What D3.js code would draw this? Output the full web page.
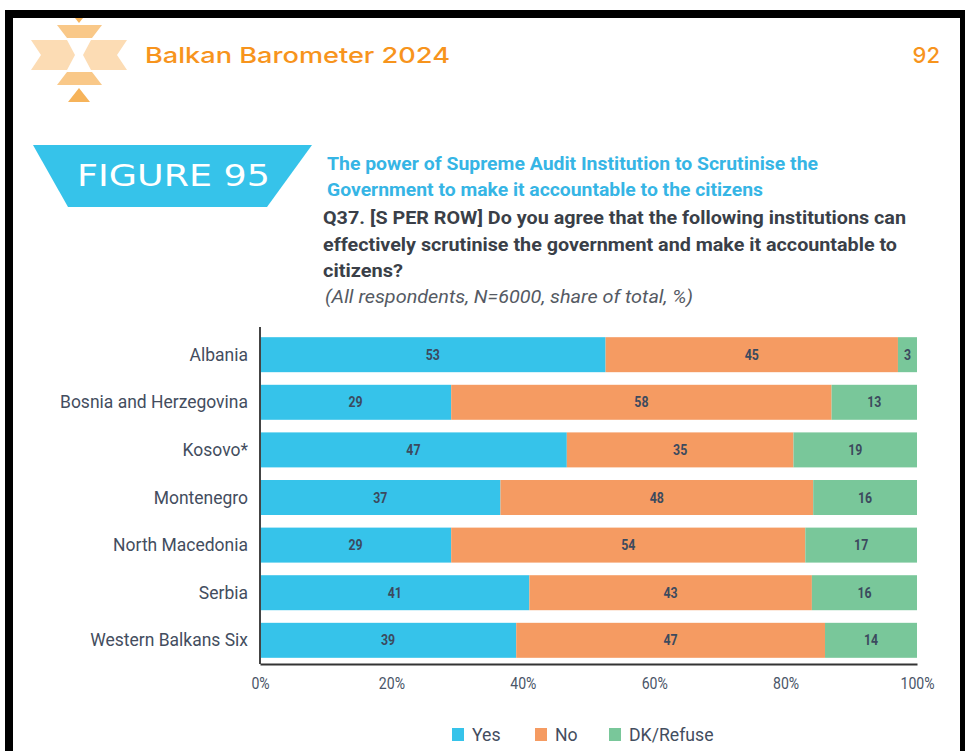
<!DOCTYPE html>
<html>
<head>
<meta charset="utf-8">
<script src="https://cdn.jsdelivr.net/npm/d3@7"></script>
<style>
  body { margin: 0; background: #fff; }
  svg { display: block; font-family: Roboto, "Noto Sans", sans-serif; }
</style>
</head>
<body>
<svg width="965" height="751"></svg>
<script>
// chart data
var countries = ["Albania", "Bosnia and Herzegovina", "Kosovo*", "Montenegro",
                 "North Macedonia", "Serbia", "Western Balkans Six"];
var yesVals = [52.6, 29.1, 46.7, 36.6, 29.1, 41.0, 39.0];
var noVals  = [44.5, 57.9, 34.5, 47.6, 53.9, 43.0, 47.0];
var dkVals  = [2.9, 13.0, 18.8, 15.8, 17.0, 16.0, 14.0];
var seriesNames = ["Yes", "No", "DK/Refuse"];
var seriesColors = ["#36c3ea", "#f59b62", "#79c79a"];
var xTicks = [0, 20, 40, 60, 80, 100];

var svg = d3.select("svg");

// squeeze text horizontally, like a condensed face
function condense(sel, k) {
    sel.each(function() {
        var w = this.getComputedTextLength();
        d3.select(this).attr("textLength", w * k).attr("lengthAdjust", "spacingAndGlyphs");
    });
}

// page frame
svg.append("rect").attr("x", 5).attr("y", 10).attr("width", 960).attr("height", 8).attr("fill", "#000");
svg.append("rect").attr("x", 5).attr("y", 10).attr("width", 8).attr("height", 741).attr("fill", "#000");
svg.append("rect").attr("x", 960).attr("y", 10).attr("width", 5).attr("height", 741).attr("fill", "#000");

// header logo
var logo = svg.append("g").attr("transform", "translate(79,0)");
logo.append("path").attr("d", "M-4,18 L4,18 L0,23 Z").attr("fill", "#f6b35a");
logo.append("path").attr("d", "M-22,25 L23,25 L13,38 L-12,38 Z").attr("fill", "#f9c888");
logo.append("path").attr("d", "M-48,40 L-12,40 L-4,55 L-12,70 L-48,70 L-38,55 Z").attr("fill", "#fcdcb4");
logo.append("path").attr("d", "M48,40 L12,40 L4,55 L12,70 L48,70 L38,55 Z").attr("fill", "#fcdcb4");
logo.append("path").attr("d", "M-12,72 L13,72 L23,85 L-22,85 Z").attr("fill", "#f9c888");
logo.append("path").attr("d", "M0,88 L11,102 L-11,102 Z").attr("fill", "#f6b35a");

svg.append("text").attr("x", 145).attr("y", 63)
    .attr("font-family", "Inter, 'DejaVu Sans', sans-serif").attr("font-size", 22).attr("font-weight", 500)
    .attr("fill", "#f7941d").attr("textLength", 305).attr("lengthAdjust", "spacingAndGlyphs")
    .text("Balkan Barometer 2024");
svg.append("text").attr("x", 940).attr("y", 63).attr("text-anchor", "end")
    .attr("font-family", "Inter, 'DejaVu Sans', sans-serif").attr("font-size", 22).attr("font-weight", 500)
    .attr("fill", "#f7941d").text("92");

// figure banner
svg.append("path").attr("d", "M33,145 L312,145 L267,207 L68,207 Z").attr("fill", "#36c3ea");
svg.append("text").attr("x", 77).attr("y", 186)
    .attr("font-family", "'DejaVu Sans', sans-serif").attr("font-size", 31)
    .attr("fill", "#fff").attr("textLength", 193).attr("lengthAdjust", "spacingAndGlyphs")
    .text("FIGURE 95");

// titles
var titleLines = [
    {t: "The power of Supreme Audit Institution to Scrutinise the", x: 327, y: 170, w: 491, c: "#36b5e5", b: true, i: false},
    {t: "Government to make it accountable to the citizens", x: 327, y: 196, w: 436, c: "#36b5e5", b: true, i: false},
    {t: "Q37. [S PER ROW] Do you agree that the following institutions can", x: 323, y: 224, w: 583, c: "#3a3f48", b: true, i: false},
    {t: "effectively scrutinise the government and make it accountable to", x: 323, y: 251, w: 574, c: "#3a3f48", b: true, i: false},
    {t: "citizens?", x: 323, y: 277, w: 80, c: "#3a3f48", b: true, i: false},
    {t: "(All respondents, N=6000, share of total, %)", x: 325, y: 303, w: 368, c: "#555a63", b: false, i: true}
];
svg.append("g").selectAll("text").data(titleLines).join("text")
    .attr("x", d => d.x).attr("y", d => d.y)
    .attr("font-size", 18)
    .attr("font-weight", d => d.b ? "bold" : "normal")
    .attr("font-style", d => d.i ? "italic" : "normal")
    .attr("fill", d => d.c)
    .attr("textLength", d => d.w).attr("lengthAdjust", "spacingAndGlyphs")
    .text(d => d.t);

// scales
var x = d3.scaleLinear().domain([0, 100]).range([260, 917]);
var y = d3.scaleBand().domain(countries).range([331, 664]).paddingInner(0.265).paddingOuter(0.13);

var rows = countries.map((c, i) => ({country: c, Yes: yesVals[i], No: noVals[i], "DK/Refuse": dkVals[i]}));
var stack = d3.stack().keys(seriesNames)(rows);

// bars
var layer = svg.append("g").selectAll("g").data(stack).join("g")
    .attr("fill", (d, i) => seriesColors[i]);
layer.selectAll("rect").data(d => d).join("rect")
    .attr("x", d => x(d[0]))
    .attr("y", d => y(d.data.country))
    .attr("width", d => x(d[1]) - x(d[0]))
    .attr("height", y.bandwidth());

// value labels
var vals = svg.append("g").selectAll("g").data(stack).join("g");
vals.selectAll("text").data(s => s.map(d => ({d: d, v: d.data[s.key]}))).join("text")
    .attr("x", e => (x(e.d[0]) + x(e.d[1])) / 2)
    .attr("y", e => y(e.d.data.country) + y.bandwidth() / 2 + 5)
    .attr("text-anchor", "middle")
    .attr("font-size", 15).attr("font-weight", "bold")
    .attr("fill", "#3c4a5e")
    .text(e => Math.round(e.v))
    .call(condense, 0.82);

// left axis
var yAxis = svg.append("g").attr("transform", "translate(260,0)")
    .call(d3.axisLeft(y).tickSize(0).tickPadding(12));
yAxis.select(".domain").remove();
yAxis.selectAll("text").attr("font-size", 19).attr("fill", "#434d5e")
    .attr("font-family", "Roboto, sans-serif")
    .call(condense, 0.92);
svg.append("line").attr("x1", 260).attr("x2", 260).attr("y1", 327).attr("y2", 664)
    .attr("stroke", "#444").attr("stroke-width", 2);

// bottom axis
var xAxis = svg.append("g").attr("transform", "translate(0,664)")
    .call(d3.axisBottom(x).tickValues(xTicks).tickFormat(d => d + "%").tickSize(0).tickPadding(14));
xAxis.select(".domain").attr("stroke", "#333").attr("stroke-width", 2);
xAxis.selectAll("text").attr("font-size", 16).attr("fill", "#4a5568")
    .attr("font-family", "Roboto, sans-serif")
    .call(condense, 0.88);

// legend
var legendX = [452, 535, 609];
var legend = svg.append("g").selectAll("g").data(seriesNames).join("g")
    .attr("transform", (d, i) => "translate(" + legendX[i] + ",728)");
legend.append("rect").attr("width", 12).attr("height", 13)
    .attr("fill", (d, i) => seriesColors[i]);
legend.append("text").attr("x", 20).attr("y", 13)
    .attr("font-size", 19).attr("fill", "#434d5e")
    .text(d => d)
    .call(condense, 0.93);
</script>
</body>
</html>
